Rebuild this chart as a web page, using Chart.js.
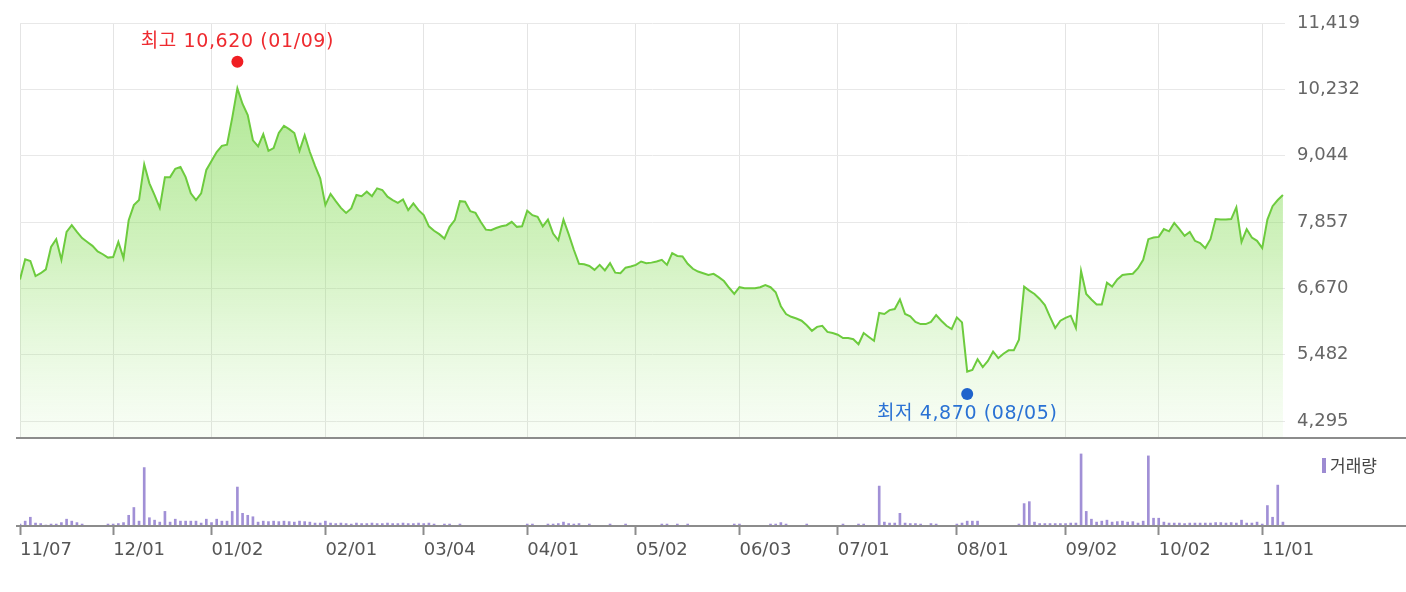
<!DOCTYPE html>
<html>
<head>
<meta charset="utf-8">
<script src="https://cdn.jsdelivr.net/npm/chart.js@4"></script>
<style>
  html, body { margin: 0; padding: 0; background: #fff; }
  #wrap { position: relative; width: 1406px; height: 592px; }
  #priceChart { position: absolute; left: 0; top: 0; }
  #volChart { position: absolute; left: 0; top: 440px; }
</style>
</head>
<body>
<div id="wrap">
  <canvas id="priceChart" width="1406" height="440"></canvas>
  <canvas id="volChart" width="1406" height="152"></canvas>
</div>
<script>
// daily closes, 2023-11-07 .. 2024-11-07 (trading days)
const closes = [
  6830, 7190, 7160, 6890, 6940, 7010, 7410, 7550, 7180, 7680,
  7800, 7680, 7570, 7500, 7430, 7330, 7280, 7220, 7230, 7500,
  7210, 7890, 8160, 8250, 8890, 8550, 8340, 8110, 8660, 8660,
  8810, 8840, 8660, 8370, 8250, 8370, 8790, 8950, 9110, 9220,
  9240, 9720, 10250, 9970, 9770, 9320, 9210, 9430, 9130, 9180,
  9450, 9580, 9520, 9450, 9130, 9410, 9110, 8860, 8640, 8160,
  8360, 8230, 8110, 8020, 8100, 8340, 8320, 8400, 8320, 8460,
  8430, 8310, 8250, 8200, 8260, 8070, 8190, 8070, 7980, 7780,
  7700, 7640, 7560, 7770, 7890, 8230, 8220, 8050, 8020, 7860,
  7720, 7710, 7750, 7780, 7800, 7860, 7770, 7780, 8060, 7980,
  7950, 7780, 7900, 7650, 7530, 7900, 7640, 7360, 7110, 7100,
  7070, 7000, 7090, 6990, 7120, 6950, 6940, 7040, 7060, 7090,
  7150, 7120, 7130, 7150, 7180, 7090, 7300, 7250, 7240, 7110,
  7020, 6970, 6940, 6910, 6930, 6870, 6800, 6680, 6570, 6690,
  6670, 6670, 6670, 6690, 6730, 6690, 6600, 6350, 6210, 6160,
  6130, 6090, 6010, 5910, 5980, 6000, 5890, 5870, 5840, 5780,
  5780, 5760, 5670, 5870, 5800, 5730, 6230, 6210, 6280, 6300,
  6470, 6210, 6170, 6070, 6030, 6030, 6070, 6190, 6090, 6000,
  5940, 6150, 6060, 5180, 5210, 5400, 5260, 5370, 5540, 5420,
  5500, 5560, 5560, 5750, 6700, 6630, 6570, 6480, 6370, 6160,
  5960, 6090, 6140, 6180, 5960, 6980, 6570, 6470, 6380, 6380,
  6770, 6700, 6830, 6910, 6920, 6930, 7030, 7180, 7550, 7580,
  7590, 7730, 7690, 7840, 7730, 7610, 7680, 7520, 7480, 7390,
  7550, 7910, 7900, 7900, 7910, 8120, 7500, 7730, 7580, 7520,
  7390, 7900, 8140, 8250, 8340
];

// daily volume (10k shares)
const volumes = [
  2, 5, 9, 3, 2.5, 1, 2, 2, 3.5, 7,
  5, 3.5, 2, 0, 0, 0, 0, 2, 2, 2.5,
  3.5, 11, 19, 5, 60, 8.5, 6, 4, 15, 4,
  7, 5, 5, 5, 5, 3, 7, 3.5, 7, 5,
  5, 15, 40, 13, 11, 9.5, 4, 5, 4.5, 5,
  4.5, 5, 4.5, 4, 5, 4.5, 4, 3, 3, 5,
  3, 2.5, 3, 2.5, 2, 3, 2.5, 2.5, 3, 2.5,
  2.5, 3, 2.5, 2.5, 3, 2.5, 2.5, 3, 2.5, 3,
  2, 0, 2, 2, 0, 2, 0, 0, 0, 0,
  0, 0, 0, 0, 0, 0, 0, 0, 2, 2,
  0, 0, 2, 2, 2.5, 4, 2.5, 2, 2.5, 0,
  2, 0, 0, 0, 2, 0, 0, 2, 0, 0,
  0, 0, 0, 0, 2, 2, 0, 2, 0, 2,
  0, 0, 0, 0, 0, 0, 0, 0, 2, 2,
  0, 0, 0, 0, 0, 2, 2, 3.5, 2, 0,
  0, 0, 2, 0, 0, 0, 0, 0, 0, 2,
  0, 0, 2, 2, 0, 0, 41, 4, 3, 3,
  13, 3, 2.5, 2.5, 2, 0, 2.5, 2, 0, 0,
  0, 2, 3, 5, 5, 5, 0, 0, 0, 0,
  0, 0, 0, 2, 23, 25, 4, 2.5, 2.5, 2.5,
  2.5, 2.5, 2.5, 3, 3, 74, 15, 7, 4, 5,
  6, 4, 4.5, 5, 4, 4.5, 3, 5, 72, 8,
  8, 4, 3, 3, 3, 2.5, 3, 3, 3, 3,
  3, 3.5, 3.5, 3, 3.5, 3, 6, 3, 3, 4,
  2, 21, 9, 42, 4
];

const tickLabels = ['11/07', '12/01', '01/02', '02/01', '03/04', '04/01', '05/02',
  '06/03', '07/01', '08/01', '09/02', '10/02', '11/01'];
const priceTicks = [4295, 5482, 6670, 7857, 9044, 10232, 11419];

const high = { value: 10620, date: '01/09' };
const low = { value: 4870, date: '08/05' };

// KRX holidays in range
const holidays = ['2023-12-25', '2023-12-29', '2024-01-01', '2024-02-09', '2024-02-12',
  '2024-03-01', '2024-04-10', '2024-05-01', '2024-05-06', '2024-05-15', '2024-06-06',
  '2024-08-15', '2024-09-16', '2024-09-17', '2024-09-18', '2024-10-01', '2024-10-03',
  '2024-10-09'];

const dates = [];
for (let t = Date.UTC(2023, 10, 7); dates.length < closes.length; t += 86400000) {
  const d = new Date(t);
  const iso = d.toISOString().slice(0, 10);
  if (d.getUTCDay() === 0 || d.getUTCDay() === 6 || holidays.includes(iso)) continue;
  dates.push(iso.slice(5, 7) + '/' + iso.slice(8, 10));
}
const tickIdx = tickLabels.map(l => dates.indexOf(l));

Chart.defaults.font.family = "'DejaVu Sans', 'Noto Sans CJK KR', sans-serif";
Chart.defaults.font.size = 18;
Chart.defaults.animation = false;

const X_MAX = 244.4;
const fmt = v => Math.round(v).toString().replace(/\B(?=(\d{3})+(?!\d))/g, ',');

// dark rule under a chart area, across to the right edge
const ruleLine = {
  id: 'ruleLine',
  afterDraw(chart) {
    const { ctx, chartArea } = chart;
    ctx.save();
    ctx.strokeStyle = '#8c8c8c';
    ctx.lineWidth = 2;
    ctx.beginPath();
    ctx.moveTo(16, chartArea.bottom);
    ctx.lineTo(chart.width, chartArea.bottom);
    ctx.stroke();
    ctx.restore();
  }
};

const hiLoMarks = {
  id: 'hiLoMarks',
  afterDatasetsDraw(chart) {
    const { ctx, scales: { x, y } } = chart;
    const marks = [
      { m: high, color: '#f01e23', text: '#ee2a2f', label: '최고', dy: -6, ty: -21 },
      { m: low, color: '#1f63cc', text: '#2a72d4', label: '최저', dy: 5, ty: 19 }
    ];
    ctx.save();
    ctx.font = "19px 'DejaVu Sans', 'Noto Sans CJK KR', sans-serif";
    ctx.letterSpacing = '0.6px';
    ctx.textAlign = 'center';
    ctx.textBaseline = 'middle';
    marks.forEach(({ m, color, text, label, dy, ty }) => {
      const px = x.getPixelForValue(dates.indexOf(m.date));
      const py = y.getPixelForValue(m.value) + dy;
      ctx.fillStyle = color;
      ctx.beginPath();
      ctx.arc(px, py, 6, 0, Math.PI * 2);
      ctx.fill();
      ctx.fillStyle = text;
      ctx.fillText(label + ' ' + fmt(m.value) + ' (' + m.date + ')', px, py + ty + 1);
    });
    ctx.restore();
  }
};

const volLegend = {
  id: 'volLegend',
  afterDraw(chart) {
    const { ctx, chartArea } = chart;
    ctx.save();
    ctx.fillStyle = '#9d8bd2';
    ctx.fillRect(1322, chartArea.top + 6, 4, 15);
    ctx.fillStyle = '#444';
    ctx.font = "17px 'Noto Sans CJK KR', sans-serif";
    ctx.textBaseline = 'middle';
    ctx.fillText('거래량', 1330, chartArea.top + 14);
    ctx.restore();
  }
};

new Chart(document.getElementById('priceChart'), {
  type: 'line',
  data: {
    datasets: [{
      data: closes.map((v, i) => ({ x: i, y: v })),
      borderColor: '#6dcb3e',
      borderWidth: 2,
      pointRadius: 0,
      tension: 0,
      fill: 'start',
      backgroundColor: (c) => {
        const area = c.chart.chartArea;
        if (!area) return 'rgba(0,0,0,0)';
        const g = c.chart.ctx.createLinearGradient(0, area.top, 0, area.bottom);
        g.addColorStop(0, 'rgba(118,214,72,0.68)');
        g.addColorStop(0.55, 'rgba(140,222,95,0.4)');
        g.addColorStop(1, 'rgba(175,236,145,0.08)');
        return g;
      }
    }]
  },
  options: {
    responsive: false,
    layout: { padding: { left: 20, top: 23, right: 0, bottom: 2 } },
    plugins: { legend: { display: false }, tooltip: { enabled: false } },
    scales: {
      x: {
        type: 'linear',
        min: 0,
        max: X_MAX,
        afterBuildTicks: (axis) => { axis.ticks = tickIdx.map(v => ({ value: v })); },
        afterFit: (axis) => { axis.height = 0; },
        ticks: { display: false },
        grid: { color: '#e4e4e4', drawTicks: false },
        border: { display: false }
      },
      y: {
        position: 'right',
        min: 3991,
        max: 11419,
        afterBuildTicks: (axis) => { axis.ticks = priceTicks.map(v => ({ value: v })); },
        afterFit: (axis) => {
          axis.width = 121;
          axis.paddingTop = 0;
          axis.paddingBottom = 0;
        },
        ticks: { color: '#666', padding: 12, callback: (v) => fmt(v) },
        grid: { color: '#e8e8e8', drawTicks: false },
        border: { display: false }
      }
    }
  },
  plugins: [hiLoMarks, ruleLine]
});

new Chart(document.getElementById('volChart'), {
  type: 'bar',
  data: {
    datasets: [{
      label: '거래량',
      data: volumes.map((v, i) => ({ x: i, y: v })),
      backgroundColor: '#a190d6',
      barThickness: 2
    }]
  },
  options: {
    responsive: false,
    layout: { padding: { left: 20, top: 12, right: 121, bottom: 0 } },
    plugins: { legend: { display: false }, tooltip: { enabled: false } },
    scales: {
      x: {
        type: 'linear',
        min: 0,
        max: X_MAX,
        offset: false,
        afterBuildTicks: (axis) => { axis.ticks = tickIdx.map(v => ({ value: v })); },
        afterFit: (axis) => { axis.height = 66; },
        ticks: {
          color: '#555',
          padding: 5,
          align: 'start',
          maxRotation: 0,
          autoSkip: false,
          callback: (v) => dates[v]
        },
        grid: { offset: false, drawOnChartArea: false, drawTicks: true, tickLength: 9, tickWidth: 2, color: '#8c8c8c' },
        border: { display: false }
      },
      y: {
        display: false,
        min: 0,
        max: 76
      }
    }
  },
  plugins: [ruleLine, volLegend]
});
</script>
</body>
</html>
